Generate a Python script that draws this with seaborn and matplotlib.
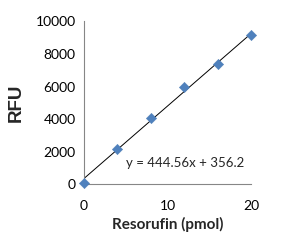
import numpy as np
import pandas as pd
import matplotlib
matplotlib.use("Agg")
import matplotlib.pyplot as plt
import seaborn as sns

# standard curve readings
resorufin_pmol = [0, 4, 8, 12, 16, 20]
rfu = [100, 2150, 4050, 5950, 7400, 9150]

# trendline coefficients as printed on the chart
slope = 444.56
intercept = 356.2

x_ticks = [0, 10, 20]
y_ticks = [0, 2000, 4000, 6000, 8000, 10000]

sns.set_style("white")
plt.rcParams['font.family'] = ['Lato', 'DejaVu Sans']

df = pd.DataFrame({'pmol': resorufin_pmol, 'rfu': rfu})
fit_x = np.array([0, 20])
fit_df = pd.DataFrame({'pmol': fit_x, 'rfu': slope * fit_x + intercept})

fig = plt.figure(figsize=(2.82, 2.46), dpi=100)
ax = fig.add_axes([0.298, 0.251, 0.592, 0.662])

sns.lineplot(x='pmol', y='rfu', data=fit_df, ax=ax, color='black', linewidth=0.7)
sns.scatterplot(x='pmol', y='rfu', data=df, ax=ax, marker='D', s=28,
                color='#4F81BD', edgecolor='#4A7AB5', linewidth=0.3,
                zorder=3, clip_on=False)

ax.set_xlim(0, 20)
ax.set_ylim(0, 10000)
ax.set_xticks(x_ticks)
ax.set_yticks(y_ticks)

for side in ['top', 'right']:
    ax.spines[side].set_visible(False)
for side in ['left', 'bottom']:
    ax.spines[side].set_color('#868686')
    ax.spines[side].set_linewidth(0.8)

ax.tick_params(axis='both', colors='#868686', labelcolor='black',
               labelsize=10, length=4, width=0.8, direction='out')
ax.tick_params(axis='x', pad=7)
ax.tick_params(axis='y', pad=2)

ax.set_xlabel('Resorufin (pmol)', fontsize=11, fontweight='bold', labelpad=4)
ax.set_ylabel('RFU', fontsize=13.5, fontweight='bold', labelpad=8,
              family=['Liberation Sans', 'DejaVu Sans'])

ax.text(0.25, 0.13, 'y = 444.56x + 356.2', transform=ax.transAxes,
        fontsize=9.5, ha='left', va='center')

fig.savefig('out.png', dpi=100)
